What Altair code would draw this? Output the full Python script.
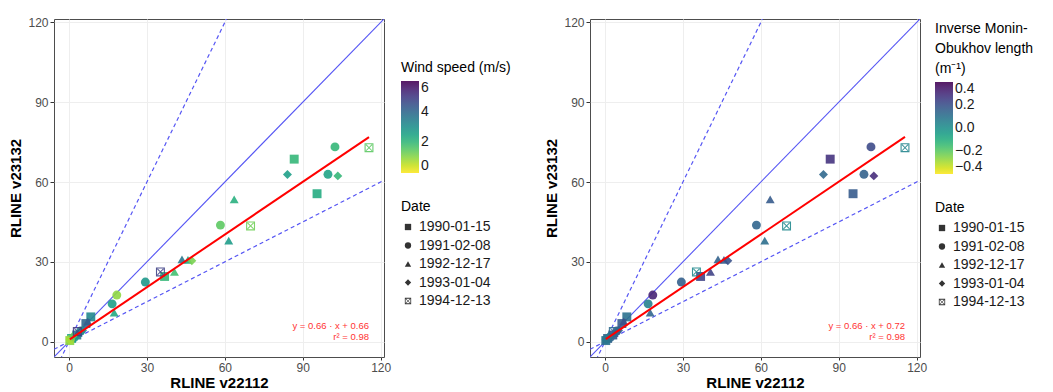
import altair as alt
import pandas as pd

# ---------------- data ----------------
dates = ["1990-01-15", "1991-02-08", "1992-12-17", "1993-01-04", "1994-12-13"]

v22112 = [86.7, 95.5, 36.8, 8.4, 3.0, 1.0, 6.5, 0.3,
          102.4, 99.7, 58.3, 29.4, 18.4, 16.6, 4.5, 2.0, 0.5,
          63.6, 61.5, 43.5, 45.8, 40.6, 17.4, 7.2, 3.5,
          84.1, 103.5, 47.3, 5.2, 1.5,
          115.5, 69.9, 35.2, 3.2]
v23132 = [68.6, 55.6, 24.5, 9.3, 2.5, 1.2, 6.8, 0.4,
          73.2, 62.9, 43.8, 22.4, 17.5, 14.2, 4.0, 1.5, 0.8,
          53.5, 38.0, 30.9, 30.7, 26.2, 10.9, 7.6, 3.2,
          62.8, 62.3, 30.4, 4.2, 2.0,
          72.9, 43.5, 26.2, 3.8]
point_date = (["1990-01-15"] * 8 + ["1991-02-08"] * 9 + ["1992-12-17"] * 8
              + ["1993-01-04"] * 5 + ["1994-12-13"] * 4)
wind_speed = [2.0, 2.3, 2.0, 3.2, 3.6, 2.5, 4.0, 1.0,
              2.0, 2.5, 1.5, 2.8, 1.0, 2.6, 3.2, 2.8, 0.8,
              2.2, 2.7, 3.6, 2.4, 1.8, 2.4, 4.2, 3.5,
              2.6, 2.0, 1.2, 3.0, 1.5,
              1.5, 1.3, 4.8, 5.0]
inv_mo_length = [0.28, 0.17, 0.24, 0.10, 0.20, 0.15, 0.17, 0.10,
                 0.22, 0.15, 0.14, 0.16, 0.32, 0.05, 0.17, 0.13, 0.08,
                 0.17, 0.11, 0.15, 0.17, 0.24, 0.14, 0.20, 0.15,
                 0.13, 0.30, 0.20, 0.15, 0.08,
                 0.04, 0.02, 0.02, 0.12]

fit_left = {"slope": 0.66, "intercept": 0.66, "r2": 0.98}
fit_right = {"slope": 0.66, "intercept": 0.72, "r2": 0.98}

ref_slopes = [1.0, 2.0, 0.5]
axis_ticks = [0, 30, 60, 90, 120]
wind_ticks = [0, 2, 4, 6]
mo_ticks = [-0.4, -0.2, 0.0, 0.2, 0.4]

# ---------------- derived tables ----------------
df = pd.DataFrame({"v22112": v22112, "v23132": v23132, "date": point_date,
                   "wind": wind_speed, "invL": inv_mo_length})

xmax = max(v22112)
dom = [-0.05 * xmax, xmax * 1.05]

ref_rows = []
for s in ref_slopes:
    for xv in dom:
        ref_rows.append({"slope": str(s), "x": xv, "y": s * xv,
                         "kind": "solid" if s == 1.0 else "dashed"})
ref_df = pd.DataFrame(ref_rows)

BOXX = ("M-1,-1H1V1H-1Z M-0.75,-0.75V0.75H0.75V-0.75Z "
        "M-0.75,-0.6L0.6,0.75L0.75,0.6L-0.6,-0.75Z "
        "M0.75,-0.6L0.6,-0.75L-0.75,0.6L-0.6,0.75Z")
shape_range = ["square", "circle", "triangle-up", "diamond", BOXX]

BLUE = "#5656f4"

xscale = alt.Scale(domain=dom, nice=False, zero=False)
yscale = alt.Scale(domain=dom, nice=False, zero=False)
xaxis = alt.Axis(values=axis_ticks, title="RLINE v22112", titlePadding=2, tickSize=3)
yaxis = alt.Axis(values=axis_ticks, title="RLINE v23132", titlePadding=4)


def panel(field, ctitle, cdomain, cvalues, fit, fmt, lx, cy, sy):
    X = alt.X("x:Q", scale=xscale, axis=xaxis)
    Y = alt.Y("y:Q", scale=yscale, axis=yaxis)

    solid = alt.Chart(ref_df).transform_filter("datum.kind == 'solid'").mark_line(
        clip=True, color=BLUE, strokeWidth=1.1).encode(x=X, y=Y, detail="slope:N")
    dashed = alt.Chart(ref_df).transform_filter("datum.kind == 'dashed'").mark_line(
        clip=True, color=BLUE, strokeWidth=1.2, strokeDash=[4, 3]).encode(
        x=X, y=Y, detail="slope:N")

    fx = [min(v22112), max(v22112)]
    fit_df = pd.DataFrame({"x": fx,
                           "y": [fit["slope"] * v + fit["intercept"] for v in fx]})
    fit_line = alt.Chart(fit_df).mark_line(color="#ff0000", strokeWidth=2).encode(x=X, y=Y)

    pts = alt.Chart(df).mark_point(filled=True, opacity=0.9, size=80).encode(
        x=alt.X("v22112:Q", scale=xscale, axis=xaxis),
        y=alt.Y("v23132:Q", scale=yscale, axis=yaxis),
        color=alt.Color(f"{field}:Q",
                        scale=alt.Scale(scheme="viridis", reverse=True, domain=cdomain),
                        legend=alt.Legend(title=ctitle, values=cvalues, format=fmt,
                                          gradientLength=92, gradientThickness=18,
                                          gradientStrokeWidth=0, orient="none",
                                          legendX=lx, legendY=cy)),
        shape=alt.Shape("date:N", scale=alt.Scale(domain=dates, range=shape_range),
                        legend=alt.Legend(title="Date", symbolFillColor="#333333",
                                          symbolStrokeColor="#333333", symbolOpacity=1,
                                          symbolSize=40, symbolStrokeWidth=0,
                                          orient="none", legendX=lx, legendY=sy)),
    )

    ann_df = pd.DataFrame({
        "x": [xmax, xmax],
        "y": [6.0, 1.8],
        "t": [f"y = {fit['slope']:.2f} · x + {fit['intercept']:.2f}",
              f"r² = {fit['r2']:.2f}"],
    })
    ann = alt.Chart(ann_df).mark_text(align="right", color="#ff3333", fontSize=9.5,
                                      baseline="middle").encode(x=X, y=Y, text="t:N")

    return alt.layer(solid, dashed, pts, fit_line, ann).properties(width=330, height=338)


left = panel("wind", "Wind speed (m/s)", [0, 6], wind_ticks, fit_left, "d", 347, 42, 181)
right = panel("invL", ["Inverse Monin-", "Obukhov length", "(m⁻¹)"], [-0.4, 0.4],
              mo_ticks, fit_right, ".1f", 345, 3, 182)

chart = alt.hconcat(left, right, spacing=32).resolve_scale(
    color="independent", shape="independent"
).properties(
    padding={"left": 8, "top": 15, "right": 0, "bottom": 0}
).configure(
    font="Liberation Sans"
).configure_view(
    stroke="#4d4d4d", strokeWidth=1
).configure_axis(
    labelFontSize=12, labelColor="#4d4d4d", titleFontSize=15, titleFontWeight="bold",
    titleColor="#000000", gridColor="#eeeeee", tickColor="#333333", tickSize=4,
    domain=False, labelPadding=2
).configure_legend(
    titleFontSize=14, titleFontWeight="normal", titleColor="#000000",
    labelFontSize=14, labelColor="#1a1a1a", titlePadding=6,
    titleLineHeight=20, rowPadding=4.5
)

chart.save("out.html", embed_options={"renderer": "svg", "actions": False})
